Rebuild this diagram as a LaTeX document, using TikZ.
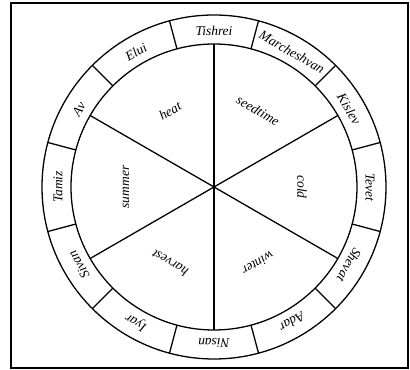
\documentclass[tikz,border=0pt]{standalone}
\usepackage{fontspec}
\setmainfont{Liberation Serif}
\tikzset{
  wheel/.style={line width=1.1pt},
  frame/.style={line width=1.6pt},
  lbl/.style={font=\fontsize{11.5pt}{13pt}\selectfont\itshape,inner sep=1pt},
}
\begin{document}
\begin{tikzpicture}[x=0.03cm,y=0.03cm]
  \useasboundingbox (-214,-183) rectangle (196,187);
  \draw[frame] (-203,-181) rectangle (194,184);
  \coordinate (hub) at (0,0);

  % the two rings
  \draw[wheel] (hub) circle[radius=172];
  \draw[wheel] (hub) circle[radius=143];

  % month cells
  \foreach \a in {15,45,...,345}
    \draw[wheel] (\a:143) -- (\a:172);

  % season spokes
  \foreach \a in {30,90,150}
    \draw[wheel] (\a:143) -- (hub) -- (\a+180:143);

  % month names
  \foreach \ang/\name [count=\i] in {90/Tishrei,60/Marcheshvan,30/Kislev,0/Tevet,
      -30/Shevat,-60/Adar,-90/Nisan,-120/Iyar,-150/Sivan,180/Tamiz,150/Av,120/Elui}
    \node[lbl,rotate=\ang-90] (month\i) at (\ang:156) {\name};

  % seasons
  \foreach \ang/\name [count=\i] in {120/heat,60/seedtime,0/cold,-60/winter,
      -120/harvest,180/summer}
    \node[lbl,rotate=\ang-90] (season\i) at (\ang:88) {\name};
\end{tikzpicture}
\end{document}
